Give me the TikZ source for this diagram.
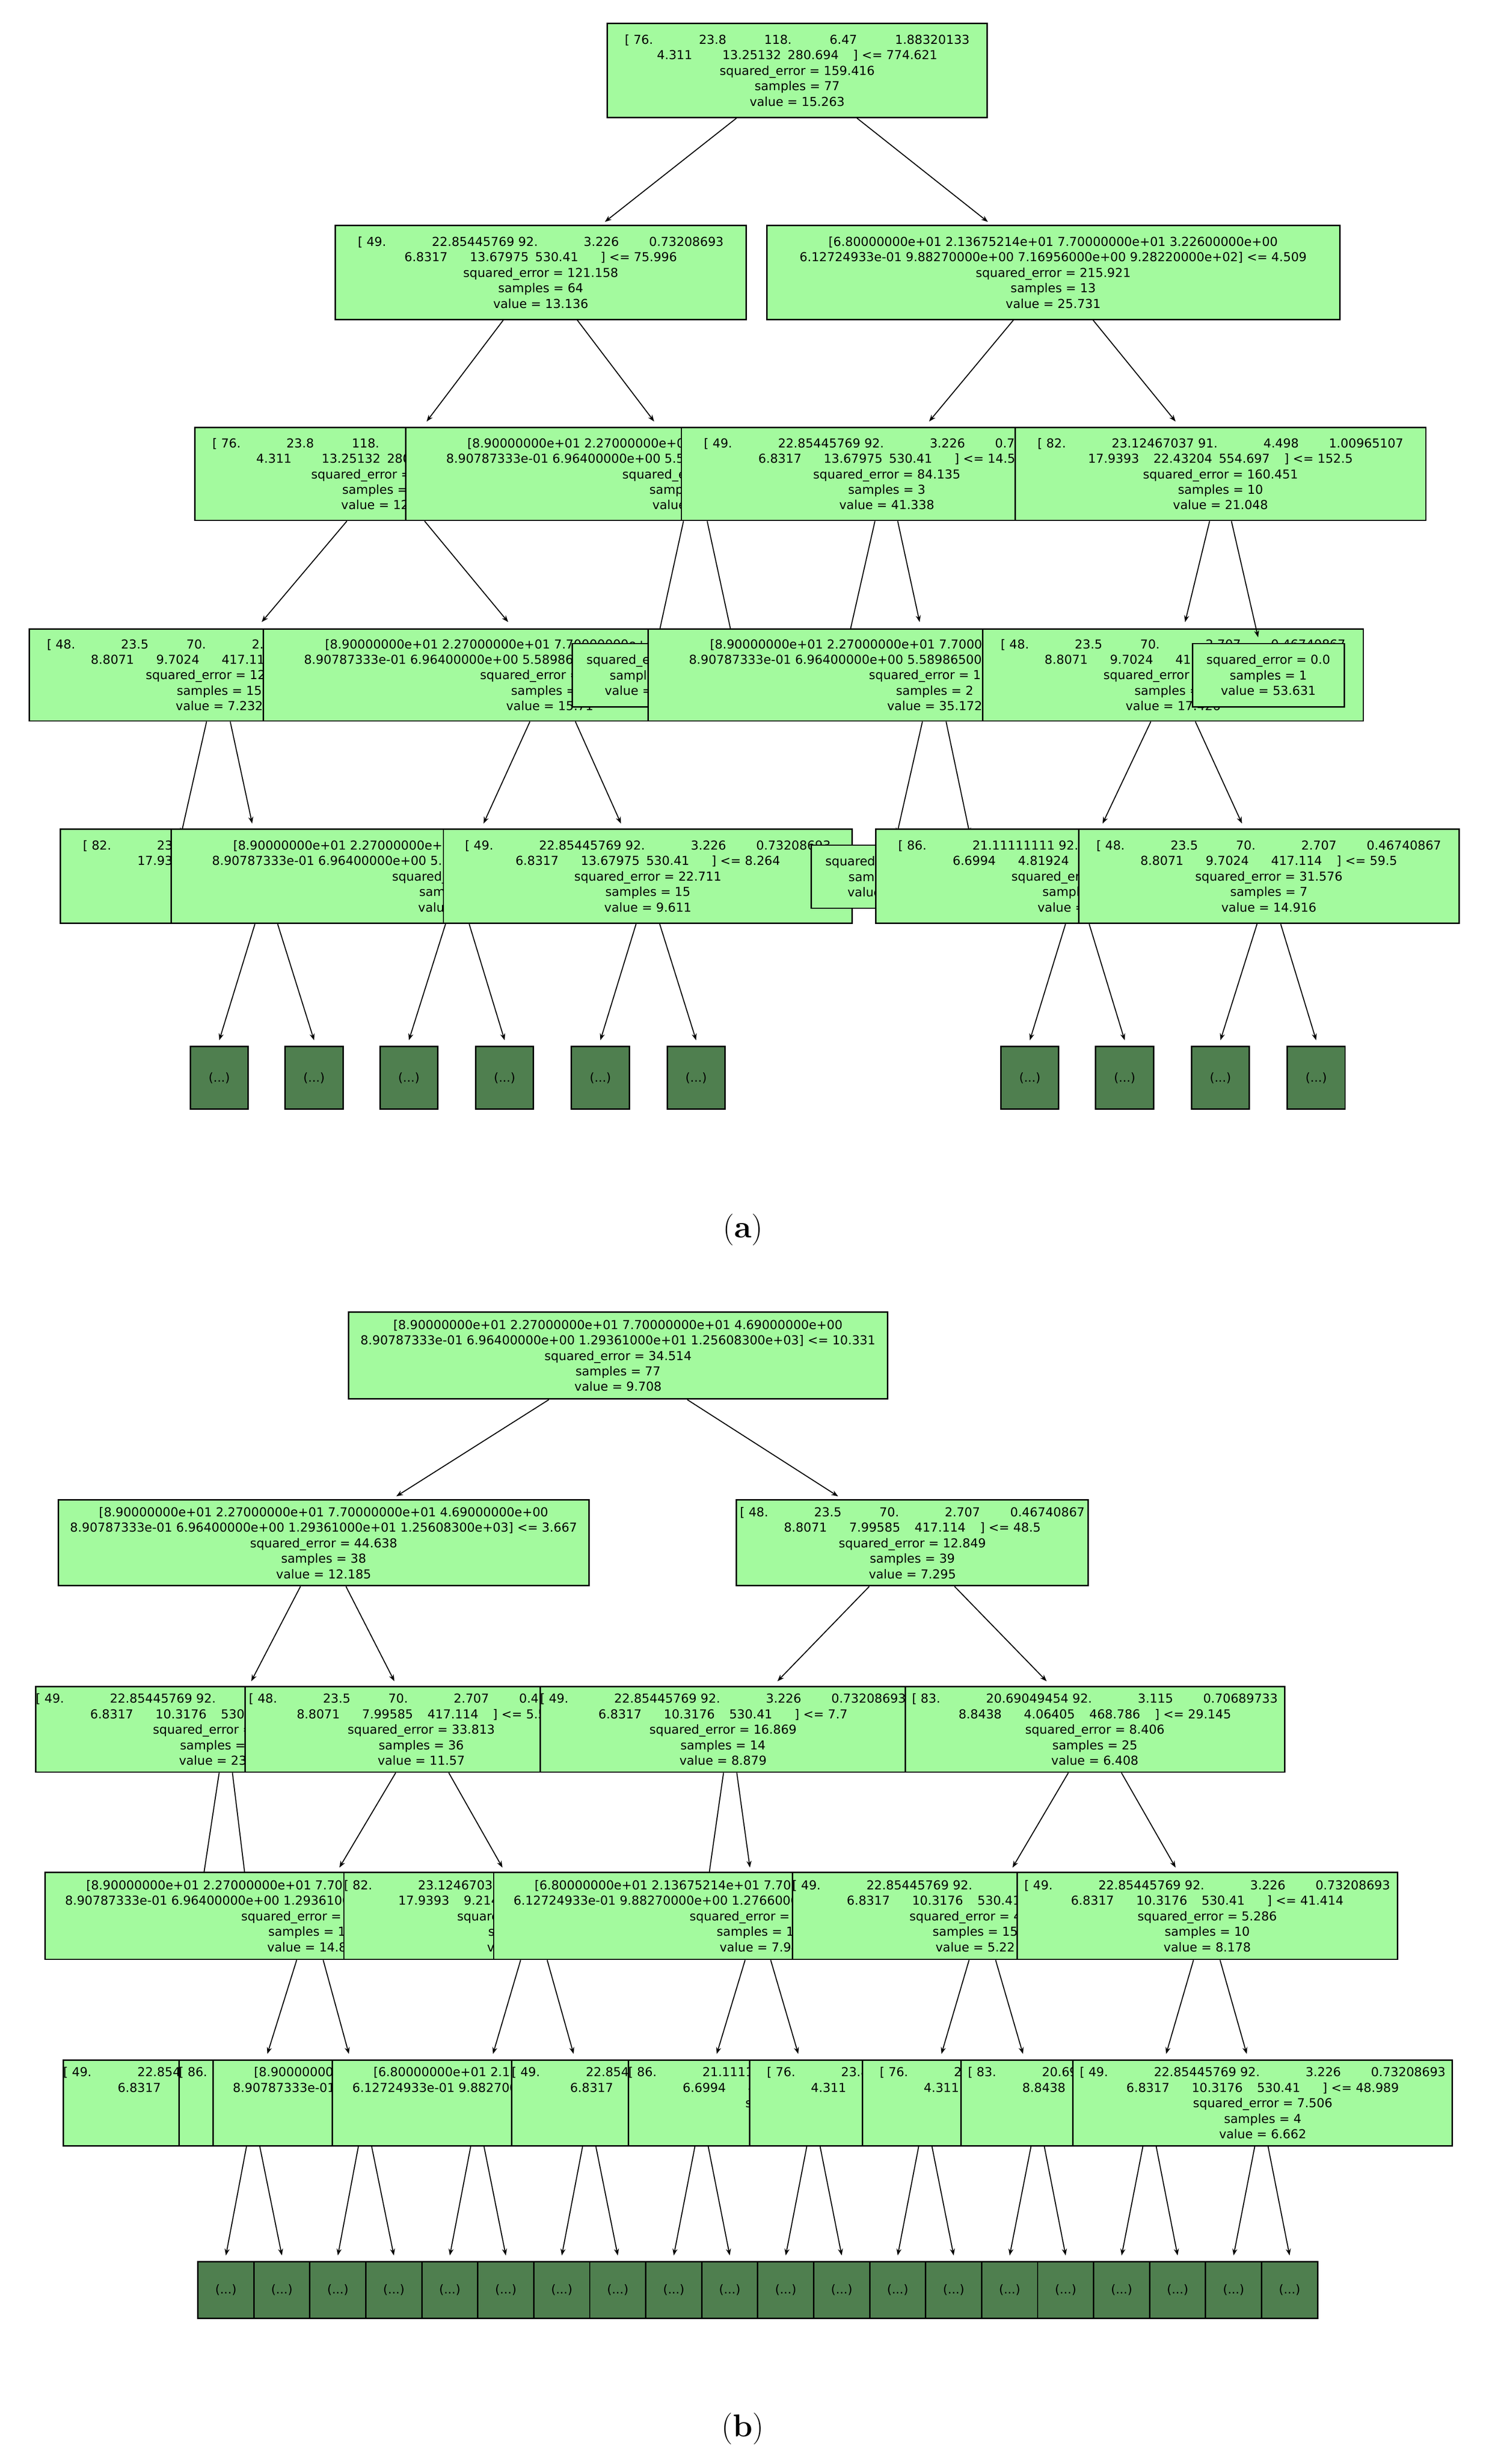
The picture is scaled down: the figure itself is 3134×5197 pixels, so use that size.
\documentclass[tikz,border=0pt]{standalone}
\usepackage{fontspec}
\usetikzlibrary{calc,arrows.meta}
\newfontfamily\dvs{DejaVu Sans}
\definecolor{leafgreen}{RGB}{163,250,158}
\definecolor{cutgreen}{RGB}{79,127,79}
% feature vectors as printed in the split lines
\newcommand\fld[1]{\makebox[5.3em][l]{#1}}
\newcommand\lfld[1]{\makebox[7.0em][l]{#1}}
\newcommand\vSix[1]{[ \fld{76.}\fld{23.8}\fld{118.}\fld{6.47}1.88320133\\\fld{4.311}\fld{13.25132}\fld{280.694}] <= #1}
\newcommand\vFortyNine[2]{[ \fld{49.}\lfld{22.85445769}\fld{92.}\fld{3.226}0.73208693\\\fld{6.8317}\fld{#1}\fld{530.41}] <= #2}
\newcommand\vFortyEight[2]{[ \fld{48.}\fld{23.5}\fld{70.}\fld{2.707}0.46740867\\\fld{8.8071}\fld{#1}\fld{417.114}] <= #2}
\newcommand\vEightyTwo[3]{[ \fld{82.}\lfld{23.12467037}\fld{91.}\fld{4.498}1.00965107\\\fld{17.9393}\fld{#1}\fld{#2}] <= #3}
\newcommand\vEightySix[1]{[ \fld{86.}\lfld{21.11111111}\fld{92.}\fld{3.115}0.70689733\\\fld{6.6994}\fld{4.81924}\fld{468.786}] <= #1}
\newcommand\vEightyThree[1]{[ \fld{83.}\lfld{20.69049454}\fld{92.}\fld{3.115}0.70689733\\\fld{8.8438}\fld{4.06405}\fld{468.786}] <= #1}
\newcommand\eEightyNine[2]{[8.90000000e+01 2.27000000e+01 7.70000000e+01 4.69000000e+00\\8.90787333e-01 6.96400000e+00 #1 1.25608300e+03] <= #2}
\newcommand\eSixtyEight[2]{[6.80000000e+01 2.13675214e+01 7.70000000e+01 3.22600000e+00\\6.12724933e-01 9.88270000e+00 #1 9.28220000e+02] <= #2}
\newcommand\st[3]{\\squared\_error = #1\\samples = #2\\value = #3}
\newcommand\leafst[3]{squared\_error = #1\\samples = #2\\value = #3}
\newcommand\edge[4]{\draw[arr] ($(#1.south)+(#2,0)$) -- (#3,#4);}
\begin{document}
\begin{tikzpicture}[x=0.01cm,y=-0.01cm,
split/.style={draw,fill=leafgreen,line width=0.85pt,anchor=north west,align=center,inner sep=0pt,
  font=\dvs\fontsize{7.4}{9.3}\selectfont},
dots/.style={draw,fill=cutgreen,line width=0.85pt,anchor=north west,inner sep=0pt,
  minimum width=1.22cm,minimum height=1.32cm,font=\dvs\fontsize{7.4}{9.3}\selectfont},
arr/.style={line width=0.6pt,-{Stealth[length=4pt,width=3pt]}},
caption/.style={font=\fontsize{19}{22}\selectfont}]
\useasboundingbox (0,0) rectangle (3134,5197);

% ---------------- (a)
\node[split,minimum width=8cm,minimum height=1.98cm] (a0) at (1280,48) {\vSix{774.621}\st{159.416}{77}{15.263}};
\edge{a0}{-128}{1276}{468}
\edge{a0}{126}{2084}{468}
\node[split,minimum width=8.66cm,minimum height=1.98cm] (a1) at (706,474) {\vFortyNine{13.67975}{75.996}\st{121.158}{64}{13.136}};
\node[split,minimum width=12.08cm,minimum height=1.98cm] (a2) at (1616,474) {\eSixtyEight{7.16956000e+00}{4.509}\st{215.921}{13}{25.731}};
\edge{a1}{-79}{900}{889}
\edge{a1}{77}{1380}{889}
\edge{a2}{-84}{1960}{889}
\edge{a2}{84}{2480}{889}
\node[split,minimum width=8cm,minimum height=1.96cm] (a3) at (410,900) {\vSix{31.6}\st{98.324}{22}{12.27}};
\node[split,minimum width=12.08cm,minimum height=1.96cm] (a4) at (854,900) {\eEightyNine{5.58986500e+00}{3.5}\st{104.2}{42}{13.5}};
\node[split,minimum width=8.66cm,minimum height=1.96cm] (a5) at (1436,900) {\vFortyNine{13.67975}{14.5}\st{84.135}{3}{41.338}};
\node[split,minimum width=8.66cm,minimum height=1.96cm] (a6) at (2140,900) {\vEightyTwo{22.43204}{554.697}{152.5}\st{160.451}{10}{21.048}};
\edge{a3}{-80}{552}{1312}
\edge{a3}{84}{1072}{1312}
\edge{a4}{-18}{1388}{1345}
\edge{a4}{32}{1545}{1345}
\edge{a5}{-25}{1790}{1345}
\edge{a5}{23}{1940}{1312}
\edge{a6}{-23}{2500}{1312}
\node[split,minimum width=8.02cm,minimum height=1.94cm] (b3) at (60,1325) {\vFortyEight{9.7024}{62.5}\st{12.874}{15}{7.232}};
\node[split,minimum width=12.08cm,minimum height=1.94cm] (c3) at (554,1325) {\eEightyNine{5.58986500e+00}{2.9}\st{61.27}{7}{15.71}};
\node[split,minimum width=3.2cm,minimum height=1.33cm] (d3) at (1206,1356) {\leafst{0.0}{1}{46.25}};
\node[split,minimum width=12.08cm,minimum height=1.94cm] (e3) at (1366,1325) {\eEightyNine{5.58986500e+00}{4.1}\st{1.44}{2}{35.172}};
\node[split,minimum width=8.02cm,minimum height=1.94cm] (f3) at (2072,1325) {\vFortyEight{9.7024}{70.5}\st{92.61}{9}{17.426}};
\edge{a6}{23}{2654}{1344}
\node[split,minimum width=3.2cm,minimum height=1.33cm] (g3) at (2514,1356) {\leafst{0.0}{1}{53.631}};
\edge{b3}{-27}{382}{1760}
\edge{b3}{23}{532}{1737}
\edge{c3}{-42}{1020}{1737}
\edge{c3}{54}{1310}{1737}
\edge{e3}{-26}{1892}{1760}
\edge{e3}{24}{2046}{1760}
\edge{f3}{-47}{2326}{1737}
\edge{f3}{47}{2620}{1737}
\node[split,minimum width=8.66cm,minimum height=1.99cm] (b4) at (126,1747) {\vEightyTwo{22.43204}{554.697}{98.5}\st{20.41}{6}{8.95}};
\node[split,minimum width=12.08cm,minimum height=1.99cm] (c4) at (360,1747) {\eEightyNine{5.58986500e+00}{1.2}\st{9.88}{9}{6.12}};
\node[split,minimum width=8.62cm,minimum height=1.99cm] (d4) at (934,1747) {\vFortyNine{13.67975}{8.264}\st{22.711}{15}{9.611}};
\node[split,minimum width=3.2cm,minimum height=1.33cm] (e4) at (1710,1781) {\leafst{0.0}{1}{33.9}};
\node[split,minimum width=8.66cm,minimum height=1.99cm] (f4) at (1846,1747) {\vEightySix{62.5}\st{25.03}{2}{20.11}};
\node[split,minimum width=8.02cm,minimum height=1.99cm] (g4) at (2274,1747) {\vFortyEight{9.7024}{59.5}\st{31.576}{7}{14.916}};
\foreach \x [count=\i from 0] in {400,600,800,1002,1204,1406,2110,2310,2512,2714}
  \node[dots] (au\i) at (\x,2206) {(...)};
\foreach \p/\dx [count=\i from 0] in {b4/-23,b4/25,c4/-26,c4/24,d4/-25,d4/25,f4/-33,f4/17,g4/-25,g4/25}
  \draw[arr] ($(\p.south)+(\dx,0)$) -- ([yshift=3.4pt]au\i.north);
\node[caption] (capa) at (1567,2594) {(\textbf{a})};

% ---------------- (b)
\node[split,minimum width=11.36cm,minimum height=1.83cm] (r0) at (734,2766) {\eEightyNine{1.29361000e+01}{10.331}\st{34.514}{77}{9.708}};
\edge{r0}{-146}{836}{3156}
\edge{r0}{146}{1768}{3156}
\node[split,minimum width=11.18cm,minimum height=1.81cm] (r1) at (122,3162) {\eEightyNine{1.29361000e+01}{3.667}\st{44.638}{38}{12.185}};
\node[split,minimum width=7.42cm,minimum height=1.81cm] (r2) at (1552,3162) {\vFortyEight{7.99585}{48.5}\st{12.849}{39}{7.295}};
\edge{r1}{-49}{530}{3546}
\edge{r1}{47}{832}{3546}
\edge{r2}{-91}{1640}{3546}
\edge{r2}{89}{2208}{3546}
\node[split,minimum width=7.7cm,minimum height=1.8cm] (s1) at (74,3556) {\vFortyNine{10.3176}{13.5}\st{38.1}{2}{23.5}};
\node[split,minimum width=7.42cm,minimum height=1.8cm] (s2) at (516,3556) {\vFortyEight{7.99585}{5.5}\st{33.813}{36}{11.57}};
\node[split,minimum width=7.7cm,minimum height=1.8cm] (s3) at (1138,3556) {\vFortyNine{10.3176}{7.7}\st{16.869}{14}{8.879}};
\node[split,minimum width=8cm,minimum height=1.8cm] (s4) at (1908,3556) {\vEightyThree{29.145}\st{8.406}{25}{6.408}};
\edge{s1}{1}{428}{3965}
\edge{s1}{29}{518}{3965}
\edge{s2}{-54}{716}{3939}
\edge{s2}{58}{1060}{3939}
\edge{s3}{1}{1494}{3965}
\edge{s3}{29}{1582}{3939}
\edge{s4}{-56}{2136}{3939}
\edge{s4}{56}{2480}{3939}
\node[split,minimum width=11.2cm,minimum height=1.83cm] (t1) at (94,3948) {\eEightyNine{1.29361000e+01}{2.1}\st{19.02}{11}{14.86}};
\node[split,minimum width=7.7cm,minimum height=1.83cm] (t2) at (724,3948) {\vEightyTwo{9.21485}{554.697}{61.5}\st{30.14}{9}{19.2}};
\node[split,minimum width=11.2cm,minimum height=1.83cm] (t3) at (1040,3948) {\eSixtyEight{1.27660000e+01}{3.8}\st{18.47}{12}{7.94}};
\node[split,minimum width=7.7cm,minimum height=1.83cm] (t4) at (1670,3948) {\vFortyNine{10.3176}{30.5}\st{4.12}{15}{5.22}};
\node[split,minimum width=8.02cm,minimum height=1.83cm] (t5) at (2144,3948) {\vFortyNine{10.3176}{41.414}\st{5.286}{10}{8.178}};
\edge{t1}{-30}{564}{4332}
\edge{t1}{26}{736}{4332}
\edge{t2}{-13}{1040}{4332}
\edge{t2}{43}{1210}{4332}
\edge{t3}{-30}{1512}{4332}
\edge{t3}{24}{1684}{4332}
\edge{t4}{-13}{1986}{4332}
\edge{t4}{43}{2158}{4332}
\edge{t5}{-29}{2460}{4332}
\edge{t5}{27}{2630}{4332}
\node[split,minimum width=7.7cm,minimum height=1.8cm] (u1) at (132,4344) {\vFortyNine{10.3176}{11.5}\st{6.71}{5}{12.4}};
\node[split,minimum width=7.7cm,minimum height=1.8cm] (u2) at (376,4344) {\vEightySix{20.5}\st{3.02}{3}{18.3}};
\node[split,minimum width=11.2cm,minimum height=1.8cm] (u3) at (448,4344) {\eEightyNine{1.29361000e+01}{1.6}\st{8.55}{6}{15.1}};
\node[split,minimum width=11.2cm,minimum height=1.8cm] (u4) at (700,4344) {\eSixtyEight{1.27660000e+01}{2.4}\st{11.2}{7}{9.31}};
\node[split,minimum width=7.7cm,minimum height=1.8cm] (u5) at (1078,4344) {\vFortyNine{10.3176}{9.5}\st{5.64}{5}{7.02}};
\node[split,minimum width=7.7cm,minimum height=1.8cm] (u6) at (1324,4344) {\vEightySix{33.5}\st{2.87}{6}{8.4}};
\node[split,minimum width=8cm,minimum height=1.8cm] (u7) at (1580,4344) {\vSix{55.2}\st{3.31}{8}{6.02}};
\node[split,minimum width=8cm,minimum height=1.8cm] (u8) at (1818,4344) {\vSix{18.5}\st{4.09}{7}{4.41}};
\node[split,minimum width=8cm,minimum height=1.8cm] (u9) at (2026,4344) {\vEightyThree{36.5}\st{3.76}{6}{9.03}};
\node[split,minimum width=8cm,minimum height=1.8cm] (u10) at (2262,4344) {\vFortyNine{10.3176}{48.989}\st{7.506}{4}{6.662}};
\foreach \i in {0,...,19}
  \node[dots,minimum width=1.18cm,minimum height=1.19cm] (bu\i) at (416+118.1*\i,4769) {(...)};
\foreach \p/\dx [count=\k from 0] in {u3/72,u4/56,u4/293,u5/151,u6/142,u7/122,u8/120,u9/149,u10/149,u10/385} {
  \pgfmathtruncatemacro\l{2*\k}
  \pgfmathtruncatemacro\r{2*\k+1}
  \draw[arr] ($(\p.south west)+(\dx,0)$) -- ([yshift=3.4pt]bu\l.north);
  \draw[arr] ($(\p.south west)+(\dx+28,0)$) -- ([yshift=3.4pt]bu\r.north);
}
\node[caption] (capb) at (1567,5123) {(\textbf{b})};
\end{tikzpicture}
\end{document}
